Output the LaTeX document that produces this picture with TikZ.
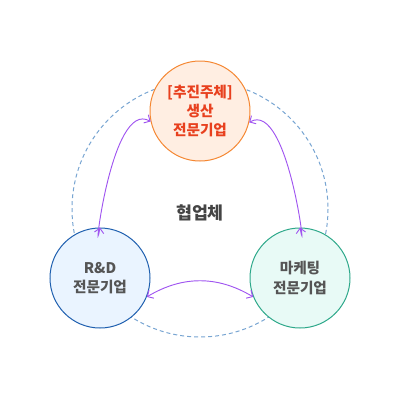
\documentclass[tikz,border=0pt]{standalone}
\usepackage{fontspec}
\setmainfont{Noto Sans CJK KR}
\usetikzlibrary{arrows.meta}

\definecolor{ringblue}{RGB}{120,165,210}
\definecolor{arcpurple}{RGB}{160,85,240}
\definecolor{leadorange}{RGB}{245,135,50}
\definecolor{leadfill}{RGB}{255,238,226}
\definecolor{leadtext}{RGB}{232,64,30}
\definecolor{rdblue}{RGB}{30,95,175}
\definecolor{rdfill}{RGB}{234,244,255}
\definecolor{mktteal}{RGB}{45,168,138}
\definecolor{mktfill}{RGB}{232,250,246}
\definecolor{labelgray}{RGB}{85,85,85}

\tikzset{every picture/.style={line width=0.75pt}}
\tikzset{
  partner/.style={circle, minimum size=75pt, inner sep=0pt, align=center,
    font=\fontsize{11pt}{14.5pt}\selectfont\bfseries, text=labelgray},
  link/.style={arcpurple, line width=0.7pt, {Straight Barb[length=3.5pt,width=7pt]}-{Straight Barb[length=3.5pt,width=7pt]}}
}

\begin{document}
\begin{tikzpicture}[x=0.75pt,y=0.75pt,yscale=-1,xscale=1]
\useasboundingbox (0,0) rectangle (400,400);

%Dashed ring
\draw [color=ringblue, dash pattern=on 3pt off 2.25pt] (200,209) circle (128);

%Partner circles
\node [partner, draw=leadorange, fill=leadfill, text=leadtext] (lead) at (200,111) {[추진주체]\\생산\\전문기업};
\node [partner, draw=rdblue, fill=rdfill] (rnd) at (100,278) {R\&D\\전문기업};
\node [partner, draw=mktteal, fill=mktfill] (mkt) at (300,278) {마케팅\\전문기업};

% Text Node
\node [font=\fontsize{13pt}{15pt}\selectfont\bfseries, text=labelgray!80!black] (group) at (200,213) {협업체};

%Arcs
\draw [link] (lead.192) to [out=210, in=100] (rnd.90);
\draw [link] (lead.-13) to [out=-30, in=80] (mkt.90);
\draw [link] (rnd.-22) to [out=-31, in=211] (mkt.202);

\end{tikzpicture}
\end{document}
